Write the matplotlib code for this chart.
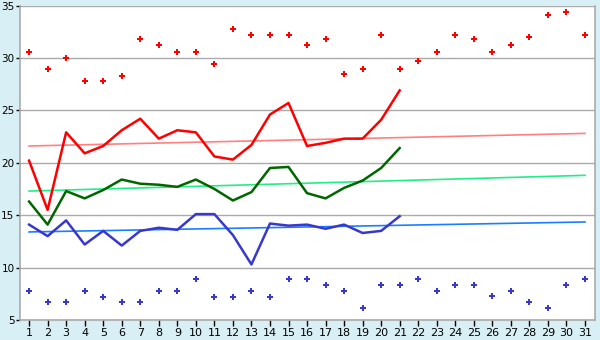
import matplotlib
matplotlib.use('Agg')
import matplotlib.pyplot as plt

days = list(range(1, 32))
line_days = list(range(1, 22))

max_points = [30.6, 28.9, 30.0, 27.8, 27.8, 28.3, 31.8, 31.2, 30.6, 30.6,
              29.4, 32.8, 32.2, 32.2, 32.2, 31.2, 31.8, 28.5, 28.9, 32.2,
              28.9, 29.7, 30.6, 32.2, 31.8, 30.6, 31.2, 32.0, 34.1, 34.4, 32.2]
min_points = [7.8, 6.7, 6.7, 7.8, 7.2, 6.7, 6.7, 7.8, 7.8, 8.9,
              7.2, 7.2, 7.8, 7.2, 8.9, 8.9, 8.3, 7.8, 6.1, 8.3,
              8.3, 8.9, 7.8, 8.3, 8.3, 7.3, 7.8, 6.7, 6.1, 8.3, 8.9]

red_line = [20.2, 15.5, 22.9, 20.9, 21.6, 23.1, 24.2, 22.3, 23.1, 22.9,
            20.6, 20.3, 21.7, 24.6, 25.7, 21.6, 21.9, 22.3, 22.3, 24.1, 26.9]
green_line = [16.3, 14.1, 17.3, 16.6, 17.4, 18.4, 18.0, 17.9, 17.7, 18.4,
              17.5, 16.4, 17.2, 19.5, 19.6, 17.1, 16.6, 17.6, 18.3, 19.5, 21.4]
blue_line = [14.1, 13.0, 14.5, 12.2, 13.5, 12.1, 13.5, 13.8, 13.6, 15.1,
             15.1, 13.1, 10.3, 14.2, 14.0, 14.1, 13.7, 14.1, 13.3, 13.5, 14.9]

trend_days = [1, 31]
red_trend = [21.6, 22.8]
green_trend = [17.3, 18.8]
blue_trend = [13.4, 14.35]

fig = plt.figure(figsize=(6, 3.4), dpi=100)
fig.patch.set_facecolor('#d9eff6')
ax = fig.add_axes([20/600, 20/340, 575/600, 314.5/340])
ax.set_facecolor('white')

ax.plot(trend_days, red_trend, color='#ff8080', lw=1.2, zorder=2)
ax.plot(trend_days, green_trend, color='#22ee88', lw=1.2, zorder=2)
ax.plot(trend_days, blue_trend, color='#1a7fff', lw=1.2, zorder=2)

ax.plot(line_days, red_line, color='#ff0000', lw=1.8, zorder=3)
ax.plot(line_days, green_line, color='#006600', lw=1.8, zorder=3)
ax.plot(line_days, blue_line, color='#3838cc', lw=1.8, zorder=3)

ax.plot(days, max_points, ls='none', marker='P', ms=5, color='#ff0000',
        mec='#ff0000', mew=0, zorder=4)
ax.plot(days, min_points, ls='none', marker='P', ms=5, color='#3838cc',
        mec='#3838cc', mew=0, zorder=4)

ax.set_xlim(0.51, 31.54)
ax.set_ylim(5, 35)
ax.set_xticks(days)
ax.set_yticks(range(5, 36, 5))
ax.yaxis.grid(True, color='#aaaaaa', lw=1)
ax.set_axisbelow(True)
for side in ['left', 'bottom', 'right']:
    ax.spines[side].set_color('#aaaaaa')
    ax.spines[side].set_linewidth(1.2)
ax.spines['top'].set_visible(False)
ax.tick_params(axis='x', labelsize=8, length=4, width=1, color='black', pad=2)
ax.tick_params(axis='y', labelsize=7.5, length=3, width=1, color='black', pad=1)

fig.savefig('out.png', dpi=100, facecolor=fig.get_facecolor())
